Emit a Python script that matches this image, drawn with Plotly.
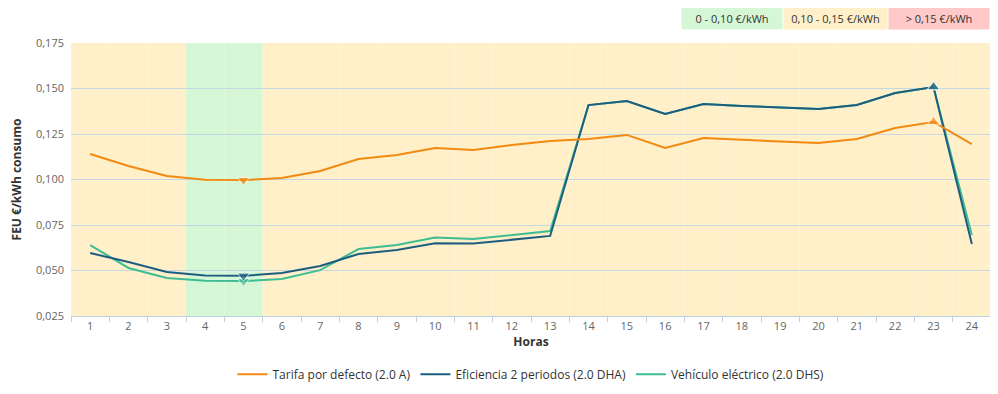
import plotly.graph_objects as go

hours = [str(h) for h in range(1, 25)]
tarifa = [0.114, 0.1074, 0.1019, 0.0998, 0.0997, 0.1008, 0.1047, 0.1113, 0.1135, 0.1173,
          0.1162, 0.1190, 0.1212, 0.1223, 0.1245, 0.1173, 0.1228, 0.1217, 0.1209, 0.1200,
          0.1223, 0.1283, 0.1316, 0.1195]
eficiencia = [0.0596, 0.0547, 0.0492, 0.0472, 0.0471, 0.0486, 0.0525, 0.0591, 0.0613, 0.0650,
              0.0648, 0.0668, 0.0690, 0.1409, 0.1431, 0.1360, 0.1415, 0.1404, 0.1396, 0.1387,
              0.1409, 0.1475, 0.1508, 0.0646]
vehiculo = [0.0640, 0.0514, 0.0459, 0.0443, 0.0442, 0.0453, 0.0502, 0.0618, 0.0640, 0.0681,
            0.0673, 0.0695, 0.0717, 0.1409, 0.1431, 0.1360, 0.1415, 0.1404, 0.1396, 0.1387,
            0.1409, 0.1475, 0.1508, 0.0695]
series_names = ["Tarifa por defecto (2.0 A)", "Eficiencia 2 periodos (2.0 DHA)", "Vehículo eléctrico (2.0 DHS)"]
series_colors = ["#F28A12", "#1D5E80", "#3DBD92"]
band_labels = ["0 - 0,10 €/kWh", "0,10 - 0,15 €/kWh", "> 0,15 €/kWh"]
band_colors = ["#D6F7D6", "#FFF0C9", "#FFC9C9"]
# price band index per hour (background colour of each hour column)
hour_band = [1, 1, 1, 0, 0, 1, 1, 1, 1, 1, 1, 1, 1, 1, 1, 1, 1, 1, 1, 1, 1, 1, 1, 1]

font = "Open Sans, DejaVu Sans, sans-serif"
fig = go.Figure()

shapes = []
for i, b in enumerate(hour_band):
    shapes.append(dict(type="rect", xref="x", yref="y", x0=i - 0.5, x1=i + 0.5,
                       y0=0.025, y1=0.175, fillcolor=band_colors[b], line_width=0,
                       layer="below"))

all_series = [tarifa, eficiencia, vehiculo]
# draw order: vehiculo at bottom, tarifa on top
for k in [2, 1, 0]:
    name, vals, col = series_names[k], all_series[k], series_colors[k]
    fig.add_trace(go.Scatter(x=hours, y=vals, name=name, mode="lines", legendrank=k + 1,
                             line=dict(color=col, width=2)))
for k in [2, 1, 0]:
    vals, col = all_series[k], series_colors[k]
    imin = vals.index(min(vals))
    imax = vals.index(max(vals))
    sizes = [0] * len(vals)
    symbols = ["circle"] * len(vals)
    sizes[imin] = 11
    symbols[imin] = "triangle-down"
    sizes[imax] = 11
    symbols[imax] = "triangle-up"
    fig.add_trace(go.Scatter(x=hours, y=vals, mode="markers", showlegend=False,
                             hoverinfo="skip",
                             marker=dict(size=sizes, symbol=symbols, color=col,
                                         line=dict(color="white", width=1))))

# page body has an 8px default margin; figure is sized so the plot lands in place
L, T, PW, PH = 63, 35, 920, 273
annotations = []
x_starts = [681, 783, 888]
widths = [102, 105, 102]
for lab, colr, x0, w in zip(band_labels, band_colors, x_starts, widths):
    annotations.append(dict(text=lab, xref="paper", yref="paper",
                            x=(x0 - 71) / PW, y=1 + (43 - 30) / PH,
                            xanchor="left", yanchor="bottom", showarrow=False,
                            width=w - 2, height=21, bgcolor=colr, borderpad=0,
                            font=dict(family=font, size=11, color="#333333")))

fig.update_layout(
    width=990, height=386,
    margin=dict(l=L, r=7, t=T, b=78, autoexpand=False),
    paper_bgcolor="white", plot_bgcolor="white",
    font=dict(family=font, size=11, color="#666666"),
    shapes=shapes, annotations=annotations,
    showlegend=True,
    legend=dict(orientation="h", x=0.5, xanchor="center", y=-0.16, yanchor="top",
                font=dict(family=font, size=12, color="#333333"),
                itemwidth=30, tracegroupgap=0),
    xaxis=dict(type="category", range=[-0.5, 23.5], showgrid=False, automargin=False,
               showline=True, linecolor="#C0D0E0", linewidth=1,
               ticks="outside", tickson="boundaries", ticklen=5, tickcolor="#C0D0E0",
               tickfont=dict(size=11, color="#666666"),
               title=dict(text="<b>Horas</b>", font=dict(size=12, color="#333333"), standoff=4)),
    yaxis=dict(range=[0.025, 0.175], tickvals=[0.025, 0.05, 0.075, 0.1, 0.125, 0.15, 0.175],
               ticktext=["0,025", "0,050", "0,075", "0,100", "0,125", "0,150", "0,175"],
               showgrid=True, gridcolor="#C6D6E2", gridwidth=1, zeroline=False, automargin=False,
               ticks="", ticklabelstandoff=6,
               tickfont=dict(size=11, color="#666666"),
               title=dict(text="<b>FEU €/kWh consumo</b>", font=dict(size=12, color="#333333"), standoff=12)),
)
fig.write_html("out.html")
